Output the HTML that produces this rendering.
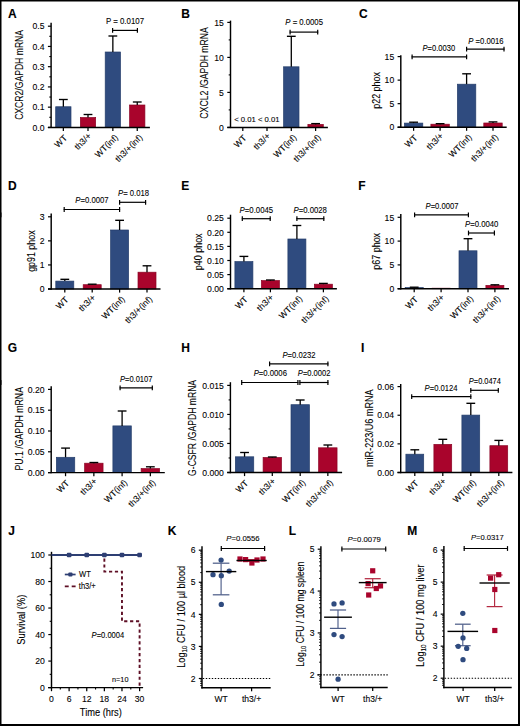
<!DOCTYPE html>
<html><head><meta charset="utf-8"><style>
html,body{margin:0;padding:0;background:#fff;}
body{width:520px;height:726px;overflow:hidden;}
svg{display:block;font-family:"Liberation Sans", sans-serif;}
text{stroke:#000;stroke-width:0.1px;}
</style></head><body>
<svg width="520" height="726" viewBox="0 0 520 726">
<rect x="0" y="0" width="520" height="726" fill="#fff"/>
<rect x="0" y="0" width="1.5" height="726" fill="#000"/>
<rect x="0" y="0" width="520" height="1.5" fill="#000"/>
<rect x="518" y="0" width="2" height="726" fill="#000"/>
<rect x="0" y="724" width="520" height="2" fill="#000"/>
<rect x="55.70" y="106.75" width="15.30" height="20.65" fill="#2f4b7f" stroke="#253e6b" stroke-width="0.7"/>
<line x1="63.35" y1="99.50" x2="63.35" y2="106.75" stroke="#000" stroke-width="1.3"/>
<line x1="58.95" y1="99.50" x2="67.75" y2="99.50" stroke="#000" stroke-width="1.35"/>
<rect x="80.35" y="117.50" width="15.30" height="9.90" fill="#a9042c" stroke="#8a0424" stroke-width="0.7"/>
<line x1="88.00" y1="114.50" x2="88.00" y2="117.50" stroke="#000" stroke-width="1.3"/>
<line x1="83.60" y1="114.50" x2="92.40" y2="114.50" stroke="#000" stroke-width="1.35"/>
<rect x="105.20" y="52.00" width="15.30" height="75.40" fill="#2f4b7f" stroke="#253e6b" stroke-width="0.7"/>
<line x1="112.85" y1="36.00" x2="112.85" y2="52.00" stroke="#000" stroke-width="1.3"/>
<line x1="108.45" y1="36.00" x2="117.25" y2="36.00" stroke="#000" stroke-width="1.35"/>
<rect x="129.60" y="105.00" width="15.30" height="22.40" fill="#a9042c" stroke="#8a0424" stroke-width="0.7"/>
<line x1="137.25" y1="102.00" x2="137.25" y2="105.00" stroke="#000" stroke-width="1.3"/>
<line x1="132.85" y1="102.00" x2="141.65" y2="102.00" stroke="#000" stroke-width="1.35"/>
<line x1="51.10" y1="22.80" x2="51.10" y2="128.12" stroke="#000" stroke-width="1.45"/>
<line x1="47.90" y1="127.40" x2="51.10" y2="127.40" stroke="#000" stroke-width="1.2"/>
<text x="0" y="0" font-size="9.2" transform="translate(44.50 130.60) scale(0.94 1)" text-anchor="end">0.0</text>
<line x1="47.90" y1="107.16" x2="51.10" y2="107.16" stroke="#000" stroke-width="1.2"/>
<text x="0" y="0" font-size="9.2" transform="translate(44.50 110.36) scale(0.94 1)" text-anchor="end">0.1</text>
<line x1="47.90" y1="86.92" x2="51.10" y2="86.92" stroke="#000" stroke-width="1.2"/>
<text x="0" y="0" font-size="9.2" transform="translate(44.50 90.12) scale(0.94 1)" text-anchor="end">0.2</text>
<line x1="47.90" y1="66.68" x2="51.10" y2="66.68" stroke="#000" stroke-width="1.2"/>
<text x="0" y="0" font-size="9.2" transform="translate(44.50 69.88) scale(0.94 1)" text-anchor="end">0.3</text>
<line x1="47.90" y1="46.44" x2="51.10" y2="46.44" stroke="#000" stroke-width="1.2"/>
<text x="0" y="0" font-size="9.2" transform="translate(44.50 49.64) scale(0.94 1)" text-anchor="end">0.4</text>
<line x1="47.90" y1="26.20" x2="51.10" y2="26.20" stroke="#000" stroke-width="1.2"/>
<text x="0" y="0" font-size="9.2" transform="translate(44.50 29.40) scale(0.94 1)" text-anchor="end">0.5</text>
<line x1="49.30" y1="117.28" x2="51.10" y2="117.28" stroke="#000" stroke-width="1.1"/>
<line x1="49.30" y1="97.04" x2="51.10" y2="97.04" stroke="#000" stroke-width="1.1"/>
<line x1="49.30" y1="76.80" x2="51.10" y2="76.80" stroke="#000" stroke-width="1.1"/>
<line x1="49.30" y1="56.56" x2="51.10" y2="56.56" stroke="#000" stroke-width="1.1"/>
<line x1="49.30" y1="36.32" x2="51.10" y2="36.32" stroke="#000" stroke-width="1.1"/>
<line x1="47.90" y1="127.40" x2="149.90" y2="127.40" stroke="#000" stroke-width="1.45"/>
<line x1="63.35" y1="127.40" x2="63.35" y2="131.00" stroke="#000" stroke-width="1.25"/>
<text x="67.65" y="138.60" font-size="8.7" text-anchor="end" transform="rotate(-45 67.65 138.60)">WT</text>
<line x1="88.00" y1="127.40" x2="88.00" y2="131.00" stroke="#000" stroke-width="1.25"/>
<text x="91.80" y="136.50" font-size="8.7" text-anchor="end" transform="rotate(-45 91.80 136.50)">th3/+</text>
<line x1="112.85" y1="127.40" x2="112.85" y2="131.00" stroke="#000" stroke-width="1.25"/>
<text x="118.65" y="138.00" font-size="8.7" text-anchor="end" transform="rotate(-45 118.65 138.00)">WT(inf)</text>
<line x1="137.25" y1="127.40" x2="137.25" y2="131.00" stroke="#000" stroke-width="1.25"/>
<text x="143.05" y="138.00" font-size="8.7" text-anchor="end" transform="rotate(-45 143.05 138.00)">th3/+(inf)</text>
<line x1="112.10" y1="30.40" x2="137.90" y2="30.40" stroke="#000" stroke-width="1.2"/>
<line x1="112.60" y1="28.00" x2="112.60" y2="32.80" stroke="#000" stroke-width="1.2"/>
<line x1="137.40" y1="28.00" x2="137.40" y2="32.80" stroke="#000" stroke-width="1.2"/>
<text x="125.00" y="23.75" font-size="8.9" text-anchor="middle" textLength="38.10" lengthAdjust="spacingAndGlyphs">P = 0.0107</text>
<text x="8.00" y="17.50" font-size="12" font-weight="bold">A</text>
<text x="23.40" y="74.90" font-size="10.4" text-anchor="middle" textLength="89.90" lengthAdjust="spacingAndGlyphs" transform="rotate(-90 23.40 74.90)">CXCR2/GAPDH mRNA</text>
<rect x="283.60" y="66.80" width="15.40" height="60.60" fill="#2f4b7f" stroke="#253e6b" stroke-width="0.7"/>
<line x1="291.30" y1="36.30" x2="291.30" y2="66.80" stroke="#000" stroke-width="1.3"/>
<line x1="286.90" y1="36.30" x2="295.70" y2="36.30" stroke="#000" stroke-width="1.35"/>
<rect x="307.90" y="124.40" width="15.40" height="3.00" fill="#a9042c" stroke="#8a0424" stroke-width="0.7"/>
<line x1="315.60" y1="123.60" x2="315.60" y2="124.40" stroke="#000" stroke-width="1.3"/>
<line x1="311.20" y1="123.60" x2="320.00" y2="123.60" stroke="#000" stroke-width="1.35"/>
<line x1="230.50" y1="20.60" x2="230.50" y2="128.12" stroke="#000" stroke-width="1.45"/>
<line x1="227.30" y1="127.40" x2="230.50" y2="127.40" stroke="#000" stroke-width="1.2"/>
<text x="0" y="0" font-size="9.2" transform="translate(223.90 130.60) scale(0.94 1)" text-anchor="end">0</text>
<line x1="227.30" y1="92.40" x2="230.50" y2="92.40" stroke="#000" stroke-width="1.2"/>
<text x="0" y="0" font-size="9.2" transform="translate(223.90 95.60) scale(0.94 1)" text-anchor="end">5</text>
<line x1="227.30" y1="57.40" x2="230.50" y2="57.40" stroke="#000" stroke-width="1.2"/>
<text x="0" y="0" font-size="9.2" transform="translate(223.90 60.60) scale(0.94 1)" text-anchor="end">10</text>
<line x1="227.30" y1="22.40" x2="230.50" y2="22.40" stroke="#000" stroke-width="1.2"/>
<text x="0" y="0" font-size="9.2" transform="translate(223.90 25.60) scale(0.94 1)" text-anchor="end">15</text>
<line x1="228.70" y1="109.90" x2="230.50" y2="109.90" stroke="#000" stroke-width="1.1"/>
<line x1="228.70" y1="74.90" x2="230.50" y2="74.90" stroke="#000" stroke-width="1.1"/>
<line x1="228.70" y1="39.90" x2="230.50" y2="39.90" stroke="#000" stroke-width="1.1"/>
<line x1="227.30" y1="127.40" x2="327.90" y2="127.40" stroke="#000" stroke-width="1.45"/>
<line x1="242.80" y1="127.40" x2="242.80" y2="131.00" stroke="#000" stroke-width="1.25"/>
<text x="247.10" y="138.60" font-size="8.7" text-anchor="end" transform="rotate(-45 247.10 138.60)">WT</text>
<line x1="267.00" y1="127.40" x2="267.00" y2="131.00" stroke="#000" stroke-width="1.25"/>
<text x="270.80" y="136.50" font-size="8.7" text-anchor="end" transform="rotate(-45 270.80 136.50)">th3/+</text>
<line x1="291.30" y1="127.40" x2="291.30" y2="131.00" stroke="#000" stroke-width="1.25"/>
<text x="297.10" y="138.00" font-size="8.7" text-anchor="end" transform="rotate(-45 297.10 138.00)">WT(inf)</text>
<line x1="315.60" y1="127.40" x2="315.60" y2="131.00" stroke="#000" stroke-width="1.25"/>
<text x="321.40" y="138.00" font-size="8.7" text-anchor="end" transform="rotate(-45 321.40 138.00)">th3/+(inf)</text>
<line x1="289.60" y1="32.10" x2="318.20" y2="32.10" stroke="#000" stroke-width="1.2"/>
<line x1="290.10" y1="29.70" x2="290.10" y2="34.50" stroke="#000" stroke-width="1.2"/>
<line x1="317.70" y1="29.70" x2="317.70" y2="34.50" stroke="#000" stroke-width="1.2"/>
<text x="304.15" y="25.45" font-size="8.9" text-anchor="middle" textLength="37.60" lengthAdjust="spacingAndGlyphs"><tspan font-style="italic">P</tspan> = 0.0005</text>
<text x="181.20" y="17.50" font-size="12" font-weight="bold">B</text>
<text x="208.00" y="72.90" font-size="10.4" text-anchor="middle" textLength="91.50" lengthAdjust="spacingAndGlyphs" transform="rotate(-90 208.00 72.90)">CXCL2 /GAPDH mRNA</text>
<rect x="404.40" y="123.10" width="18.40" height="4.10" fill="#2f4b7f" stroke="#253e6b" stroke-width="0.7"/>
<line x1="413.60" y1="122.20" x2="413.60" y2="123.10" stroke="#000" stroke-width="1.3"/>
<line x1="409.20" y1="122.20" x2="418.00" y2="122.20" stroke="#000" stroke-width="1.35"/>
<rect x="430.90" y="124.20" width="18.40" height="3.00" fill="#a9042c" stroke="#8a0424" stroke-width="0.7"/>
<line x1="440.10" y1="123.70" x2="440.10" y2="124.20" stroke="#000" stroke-width="1.3"/>
<line x1="435.70" y1="123.70" x2="444.50" y2="123.70" stroke="#000" stroke-width="1.35"/>
<rect x="457.40" y="84.20" width="18.40" height="43.00" fill="#2f4b7f" stroke="#253e6b" stroke-width="0.7"/>
<line x1="466.60" y1="73.80" x2="466.60" y2="84.20" stroke="#000" stroke-width="1.3"/>
<line x1="462.20" y1="73.80" x2="471.00" y2="73.80" stroke="#000" stroke-width="1.35"/>
<rect x="483.80" y="123.00" width="18.40" height="4.20" fill="#a9042c" stroke="#8a0424" stroke-width="0.7"/>
<line x1="493.00" y1="121.90" x2="493.00" y2="123.00" stroke="#000" stroke-width="1.3"/>
<line x1="488.60" y1="121.90" x2="497.40" y2="121.90" stroke="#000" stroke-width="1.35"/>
<line x1="400.80" y1="55.30" x2="400.80" y2="127.92" stroke="#000" stroke-width="1.45"/>
<line x1="397.60" y1="127.20" x2="400.80" y2="127.20" stroke="#000" stroke-width="1.2"/>
<text x="0" y="0" font-size="9.2" transform="translate(394.20 130.40) scale(0.94 1)" text-anchor="end">0</text>
<line x1="397.60" y1="103.67" x2="400.80" y2="103.67" stroke="#000" stroke-width="1.2"/>
<text x="0" y="0" font-size="9.2" transform="translate(394.20 106.87) scale(0.94 1)" text-anchor="end">5</text>
<line x1="397.60" y1="80.13" x2="400.80" y2="80.13" stroke="#000" stroke-width="1.2"/>
<text x="0" y="0" font-size="9.2" transform="translate(394.20 83.33) scale(0.94 1)" text-anchor="end">10</text>
<line x1="397.60" y1="56.59" x2="400.80" y2="56.59" stroke="#000" stroke-width="1.2"/>
<text x="0" y="0" font-size="9.2" transform="translate(394.20 59.80) scale(0.94 1)" text-anchor="end">15</text>
<line x1="397.60" y1="127.20" x2="506.70" y2="127.20" stroke="#000" stroke-width="1.45"/>
<line x1="413.60" y1="127.20" x2="413.60" y2="130.80" stroke="#000" stroke-width="1.25"/>
<text x="417.90" y="138.40" font-size="8.7" text-anchor="end" transform="rotate(-45 417.90 138.40)">WT</text>
<line x1="440.10" y1="127.20" x2="440.10" y2="130.80" stroke="#000" stroke-width="1.25"/>
<text x="443.90" y="136.30" font-size="8.7" text-anchor="end" transform="rotate(-45 443.90 136.30)">th3/+</text>
<line x1="466.60" y1="127.20" x2="466.60" y2="130.80" stroke="#000" stroke-width="1.25"/>
<text x="472.40" y="137.80" font-size="8.7" text-anchor="end" transform="rotate(-45 472.40 137.80)">WT(inf)</text>
<line x1="493.00" y1="127.20" x2="493.00" y2="130.80" stroke="#000" stroke-width="1.25"/>
<text x="498.80" y="137.80" font-size="8.7" text-anchor="end" transform="rotate(-45 498.80 137.80)">th3/+(inf)</text>
<line x1="411.60" y1="56.80" x2="467.10" y2="56.80" stroke="#000" stroke-width="1.2"/>
<line x1="412.10" y1="54.40" x2="412.10" y2="59.20" stroke="#000" stroke-width="1.2"/>
<line x1="466.60" y1="54.40" x2="466.60" y2="59.20" stroke="#000" stroke-width="1.2"/>
<text x="438.85" y="51.25" font-size="9.2" text-anchor="middle" textLength="32.60" lengthAdjust="spacingAndGlyphs"><tspan font-style="italic">P</tspan>=0.0030</text>
<line x1="466.10" y1="49.20" x2="504.50" y2="49.20" stroke="#000" stroke-width="1.2"/>
<line x1="466.60" y1="46.80" x2="466.60" y2="51.60" stroke="#000" stroke-width="1.2"/>
<line x1="504.00" y1="46.80" x2="504.00" y2="51.60" stroke="#000" stroke-width="1.2"/>
<text x="486.00" y="44.35" font-size="9.2" text-anchor="middle" textLength="35.30" lengthAdjust="spacingAndGlyphs"><tspan font-style="italic">P</tspan> =0.0016</text>
<text x="358.90" y="17.60" font-size="12" font-weight="bold">C</text>
<text x="379.90" y="90.40" font-size="10.0" text-anchor="middle" textLength="36.80" lengthAdjust="spacingAndGlyphs" transform="rotate(-90 379.90 90.40)">p22 phox</text>
<rect x="55.80" y="281.10" width="18.00" height="7.90" fill="#2f4b7f" stroke="#253e6b" stroke-width="0.7"/>
<line x1="64.80" y1="279.30" x2="64.80" y2="281.10" stroke="#000" stroke-width="1.3"/>
<line x1="60.40" y1="279.30" x2="69.20" y2="279.30" stroke="#000" stroke-width="1.35"/>
<rect x="83.20" y="284.70" width="18.00" height="4.30" fill="#a9042c" stroke="#8a0424" stroke-width="0.7"/>
<line x1="92.20" y1="284.20" x2="92.20" y2="284.70" stroke="#000" stroke-width="1.3"/>
<line x1="87.80" y1="284.20" x2="96.60" y2="284.20" stroke="#000" stroke-width="1.35"/>
<rect x="110.60" y="230.00" width="18.00" height="59.00" fill="#2f4b7f" stroke="#253e6b" stroke-width="0.7"/>
<line x1="119.60" y1="220.30" x2="119.60" y2="230.00" stroke="#000" stroke-width="1.3"/>
<line x1="115.20" y1="220.30" x2="124.00" y2="220.30" stroke="#000" stroke-width="1.35"/>
<rect x="138.00" y="272.20" width="18.00" height="16.80" fill="#a9042c" stroke="#8a0424" stroke-width="0.7"/>
<line x1="147.00" y1="265.80" x2="147.00" y2="272.20" stroke="#000" stroke-width="1.3"/>
<line x1="142.60" y1="265.80" x2="151.40" y2="265.80" stroke="#000" stroke-width="1.35"/>
<line x1="51.20" y1="213.60" x2="51.20" y2="289.73" stroke="#000" stroke-width="1.45"/>
<line x1="48.00" y1="289.00" x2="51.20" y2="289.00" stroke="#000" stroke-width="1.2"/>
<text x="0" y="0" font-size="9.2" transform="translate(44.60 292.20) scale(0.94 1)" text-anchor="end">0</text>
<line x1="48.00" y1="264.93" x2="51.20" y2="264.93" stroke="#000" stroke-width="1.2"/>
<text x="0" y="0" font-size="9.2" transform="translate(44.60 268.13) scale(0.94 1)" text-anchor="end">1</text>
<line x1="48.00" y1="240.86" x2="51.20" y2="240.86" stroke="#000" stroke-width="1.2"/>
<text x="0" y="0" font-size="9.2" transform="translate(44.60 244.06) scale(0.94 1)" text-anchor="end">2</text>
<line x1="48.00" y1="216.79" x2="51.20" y2="216.79" stroke="#000" stroke-width="1.2"/>
<text x="0" y="0" font-size="9.2" transform="translate(44.60 219.99) scale(0.94 1)" text-anchor="end">3</text>
<line x1="48.00" y1="289.00" x2="160.50" y2="289.00" stroke="#000" stroke-width="1.45"/>
<line x1="64.80" y1="289.00" x2="64.80" y2="292.60" stroke="#000" stroke-width="1.25"/>
<text x="69.10" y="300.20" font-size="8.7" text-anchor="end" transform="rotate(-45 69.10 300.20)">WT</text>
<line x1="92.20" y1="289.00" x2="92.20" y2="292.60" stroke="#000" stroke-width="1.25"/>
<text x="96.00" y="298.10" font-size="8.7" text-anchor="end" transform="rotate(-45 96.00 298.10)">th3/+</text>
<line x1="119.60" y1="289.00" x2="119.60" y2="292.60" stroke="#000" stroke-width="1.25"/>
<text x="125.40" y="299.60" font-size="8.7" text-anchor="end" transform="rotate(-45 125.40 299.60)">WT(inf)</text>
<line x1="147.00" y1="289.00" x2="147.00" y2="292.60" stroke="#000" stroke-width="1.25"/>
<text x="152.80" y="299.60" font-size="8.7" text-anchor="end" transform="rotate(-45 152.80 299.60)">th3/+(inf)</text>
<line x1="63.70" y1="209.50" x2="120.10" y2="209.50" stroke="#000" stroke-width="1.2"/>
<line x1="64.20" y1="207.10" x2="64.20" y2="211.90" stroke="#000" stroke-width="1.2"/>
<line x1="119.60" y1="207.10" x2="119.60" y2="211.90" stroke="#000" stroke-width="1.2"/>
<text x="92.00" y="203.35" font-size="9.2" text-anchor="middle" textLength="33.30" lengthAdjust="spacingAndGlyphs"><tspan font-style="italic">P</tspan>=0.0007</text>
<line x1="119.10" y1="202.30" x2="146.10" y2="202.30" stroke="#000" stroke-width="1.2"/>
<line x1="119.60" y1="199.90" x2="119.60" y2="204.70" stroke="#000" stroke-width="1.2"/>
<line x1="145.60" y1="199.90" x2="145.60" y2="204.70" stroke="#000" stroke-width="1.2"/>
<text x="133.55" y="196.25" font-size="9.2" text-anchor="middle" textLength="31.00" lengthAdjust="spacingAndGlyphs"><tspan font-style="italic">P</tspan>= 0.018</text>
<text x="7.90" y="189.50" font-size="12" font-weight="bold">D</text>
<text x="34.80" y="251.10" font-size="10.0" text-anchor="middle" textLength="41.40" lengthAdjust="spacingAndGlyphs" transform="rotate(-90 34.80 251.10)">gp91 phox</text>
<rect x="234.90" y="261.60" width="18.00" height="27.10" fill="#2f4b7f" stroke="#253e6b" stroke-width="0.7"/>
<line x1="243.90" y1="256.40" x2="243.90" y2="261.60" stroke="#000" stroke-width="1.3"/>
<line x1="239.50" y1="256.40" x2="248.30" y2="256.40" stroke="#000" stroke-width="1.35"/>
<rect x="261.40" y="280.60" width="18.00" height="8.10" fill="#a9042c" stroke="#8a0424" stroke-width="0.7"/>
<line x1="270.40" y1="280.00" x2="270.40" y2="280.60" stroke="#000" stroke-width="1.3"/>
<line x1="266.00" y1="280.00" x2="274.80" y2="280.00" stroke="#000" stroke-width="1.35"/>
<rect x="287.90" y="239.00" width="18.00" height="49.70" fill="#2f4b7f" stroke="#253e6b" stroke-width="0.7"/>
<line x1="296.90" y1="225.50" x2="296.90" y2="239.00" stroke="#000" stroke-width="1.3"/>
<line x1="292.50" y1="225.50" x2="301.30" y2="225.50" stroke="#000" stroke-width="1.35"/>
<rect x="314.40" y="284.20" width="18.00" height="4.50" fill="#a9042c" stroke="#8a0424" stroke-width="0.7"/>
<line x1="323.40" y1="283.40" x2="323.40" y2="284.20" stroke="#000" stroke-width="1.3"/>
<line x1="319.00" y1="283.40" x2="327.80" y2="283.40" stroke="#000" stroke-width="1.35"/>
<line x1="230.50" y1="214.70" x2="230.50" y2="289.43" stroke="#000" stroke-width="1.45"/>
<line x1="227.30" y1="288.70" x2="230.50" y2="288.70" stroke="#000" stroke-width="1.2"/>
<text x="0" y="0" font-size="9.2" transform="translate(223.90 291.90) scale(0.94 1)" text-anchor="end">0.00</text>
<line x1="227.30" y1="274.60" x2="230.50" y2="274.60" stroke="#000" stroke-width="1.2"/>
<text x="0" y="0" font-size="9.2" transform="translate(223.90 277.80) scale(0.94 1)" text-anchor="end">0.05</text>
<line x1="227.30" y1="260.50" x2="230.50" y2="260.50" stroke="#000" stroke-width="1.2"/>
<text x="0" y="0" font-size="9.2" transform="translate(223.90 263.70) scale(0.94 1)" text-anchor="end">0.10</text>
<line x1="227.30" y1="246.40" x2="230.50" y2="246.40" stroke="#000" stroke-width="1.2"/>
<text x="0" y="0" font-size="9.2" transform="translate(223.90 249.60) scale(0.94 1)" text-anchor="end">0.15</text>
<line x1="227.30" y1="232.30" x2="230.50" y2="232.30" stroke="#000" stroke-width="1.2"/>
<text x="0" y="0" font-size="9.2" transform="translate(223.90 235.50) scale(0.94 1)" text-anchor="end">0.20</text>
<line x1="227.30" y1="218.20" x2="230.50" y2="218.20" stroke="#000" stroke-width="1.2"/>
<text x="0" y="0" font-size="9.2" transform="translate(223.90 221.40) scale(0.94 1)" text-anchor="end">0.25</text>
<line x1="227.30" y1="288.70" x2="336.90" y2="288.70" stroke="#000" stroke-width="1.45"/>
<line x1="243.90" y1="288.70" x2="243.90" y2="292.30" stroke="#000" stroke-width="1.25"/>
<text x="248.20" y="299.90" font-size="8.7" text-anchor="end" transform="rotate(-45 248.20 299.90)">WT</text>
<line x1="270.40" y1="288.70" x2="270.40" y2="292.30" stroke="#000" stroke-width="1.25"/>
<text x="274.20" y="297.80" font-size="8.7" text-anchor="end" transform="rotate(-45 274.20 297.80)">th3/+</text>
<line x1="296.90" y1="288.70" x2="296.90" y2="292.30" stroke="#000" stroke-width="1.25"/>
<text x="302.70" y="299.30" font-size="8.7" text-anchor="end" transform="rotate(-45 302.70 299.30)">WT(inf)</text>
<line x1="323.40" y1="288.70" x2="323.40" y2="292.30" stroke="#000" stroke-width="1.25"/>
<text x="329.20" y="299.30" font-size="8.7" text-anchor="end" transform="rotate(-45 329.20 299.30)">th3/+(inf)</text>
<line x1="241.80" y1="218.70" x2="270.70" y2="218.70" stroke="#000" stroke-width="1.2"/>
<line x1="242.30" y1="216.30" x2="242.30" y2="221.10" stroke="#000" stroke-width="1.2"/>
<line x1="270.20" y1="216.30" x2="270.20" y2="221.10" stroke="#000" stroke-width="1.2"/>
<text x="256.35" y="213.15" font-size="9.2" text-anchor="middle" textLength="33.60" lengthAdjust="spacingAndGlyphs"><tspan font-style="italic">P</tspan>=0.0045</text>
<line x1="296.40" y1="218.70" x2="324.30" y2="218.70" stroke="#000" stroke-width="1.2"/>
<line x1="296.90" y1="216.30" x2="296.90" y2="221.10" stroke="#000" stroke-width="1.2"/>
<line x1="323.80" y1="216.30" x2="323.80" y2="221.10" stroke="#000" stroke-width="1.2"/>
<text x="310.20" y="213.15" font-size="9.2" text-anchor="middle" textLength="33.50" lengthAdjust="spacingAndGlyphs"><tspan font-style="italic">P</tspan>=0.0028</text>
<text x="181.20" y="189.50" font-size="12" font-weight="bold">E</text>
<text x="201.60" y="251.80" font-size="10.0" text-anchor="middle" textLength="36.80" lengthAdjust="spacingAndGlyphs" transform="rotate(-90 201.60 251.80)">p40 phox</text>
<rect x="405.20" y="287.60" width="18.00" height="1.10" fill="#2f4b7f" stroke="#253e6b" stroke-width="0.7"/>
<line x1="414.20" y1="287.20" x2="414.20" y2="287.60" stroke="#000" stroke-width="1.3"/>
<line x1="409.80" y1="287.20" x2="418.60" y2="287.20" stroke="#000" stroke-width="1.35"/>
<rect x="432.10" y="288.20" width="18.00" height="0.50" fill="#a9042c" stroke="#8a0424" stroke-width="0.7"/>
<rect x="459.00" y="250.80" width="18.00" height="37.90" fill="#2f4b7f" stroke="#253e6b" stroke-width="0.7"/>
<line x1="468.00" y1="238.70" x2="468.00" y2="250.80" stroke="#000" stroke-width="1.3"/>
<line x1="463.60" y1="238.70" x2="472.40" y2="238.70" stroke="#000" stroke-width="1.35"/>
<rect x="485.90" y="285.40" width="18.00" height="3.30" fill="#a9042c" stroke="#8a0424" stroke-width="0.7"/>
<line x1="494.90" y1="284.80" x2="494.90" y2="285.40" stroke="#000" stroke-width="1.3"/>
<line x1="490.50" y1="284.80" x2="499.30" y2="284.80" stroke="#000" stroke-width="1.35"/>
<line x1="400.80" y1="214.10" x2="400.80" y2="289.43" stroke="#000" stroke-width="1.45"/>
<line x1="397.60" y1="288.70" x2="400.80" y2="288.70" stroke="#000" stroke-width="1.2"/>
<text x="0" y="0" font-size="9.2" transform="translate(394.20 291.90) scale(0.94 1)" text-anchor="end">0</text>
<line x1="397.60" y1="264.90" x2="400.80" y2="264.90" stroke="#000" stroke-width="1.2"/>
<text x="0" y="0" font-size="9.2" transform="translate(394.20 268.10) scale(0.94 1)" text-anchor="end">5</text>
<line x1="397.60" y1="241.10" x2="400.80" y2="241.10" stroke="#000" stroke-width="1.2"/>
<text x="0" y="0" font-size="9.2" transform="translate(394.20 244.30) scale(0.94 1)" text-anchor="end">10</text>
<line x1="397.60" y1="217.30" x2="400.80" y2="217.30" stroke="#000" stroke-width="1.2"/>
<text x="0" y="0" font-size="9.2" transform="translate(394.20 220.50) scale(0.94 1)" text-anchor="end">15</text>
<line x1="397.60" y1="288.70" x2="509.00" y2="288.70" stroke="#000" stroke-width="1.45"/>
<line x1="414.20" y1="288.70" x2="414.20" y2="292.30" stroke="#000" stroke-width="1.25"/>
<text x="418.50" y="299.90" font-size="8.7" text-anchor="end" transform="rotate(-45 418.50 299.90)">WT</text>
<line x1="441.10" y1="288.70" x2="441.10" y2="292.30" stroke="#000" stroke-width="1.25"/>
<text x="444.90" y="297.80" font-size="8.7" text-anchor="end" transform="rotate(-45 444.90 297.80)">th3/+</text>
<line x1="468.00" y1="288.70" x2="468.00" y2="292.30" stroke="#000" stroke-width="1.25"/>
<text x="473.80" y="299.30" font-size="8.7" text-anchor="end" transform="rotate(-45 473.80 299.30)">WT(inf)</text>
<line x1="494.90" y1="288.70" x2="494.90" y2="292.30" stroke="#000" stroke-width="1.25"/>
<text x="500.70" y="299.30" font-size="8.7" text-anchor="end" transform="rotate(-45 500.70 299.30)">th3/+(inf)</text>
<line x1="414.10" y1="214.90" x2="468.90" y2="214.90" stroke="#000" stroke-width="1.2"/>
<line x1="414.60" y1="212.50" x2="414.60" y2="217.30" stroke="#000" stroke-width="1.2"/>
<line x1="468.40" y1="212.50" x2="468.40" y2="217.30" stroke="#000" stroke-width="1.2"/>
<line x1="-1.00" y1="212.50" x2="-1.00" y2="217.30" stroke="#000" stroke-width="0.9"/>
<line x1="1.00" y1="212.50" x2="1.00" y2="217.30" stroke="#000" stroke-width="0.9"/>
<text x="442.00" y="208.85" font-size="9.2" text-anchor="middle" textLength="32.90" lengthAdjust="spacingAndGlyphs"><tspan font-style="italic">P</tspan>=0.0007</text>
<line x1="468.00" y1="233.00" x2="494.90" y2="233.00" stroke="#000" stroke-width="1.2"/>
<line x1="468.50" y1="230.60" x2="468.50" y2="235.40" stroke="#000" stroke-width="1.2"/>
<line x1="494.40" y1="230.60" x2="494.40" y2="235.40" stroke="#000" stroke-width="1.2"/>
<text x="481.70" y="227.45" font-size="9.2" text-anchor="middle" textLength="33.50" lengthAdjust="spacingAndGlyphs"><tspan font-style="italic">P</tspan>=0.0040</text>
<text x="358.20" y="189.50" font-size="12" font-weight="bold">F</text>
<text x="379.70" y="251.30" font-size="10.0" text-anchor="middle" textLength="36.80" lengthAdjust="spacingAndGlyphs" transform="rotate(-90 379.70 251.30)">p67 phox</text>
<rect x="56.35" y="457.30" width="18.40" height="15.30" fill="#2f4b7f" stroke="#253e6b" stroke-width="0.7"/>
<line x1="65.55" y1="448.10" x2="65.55" y2="457.30" stroke="#000" stroke-width="1.3"/>
<line x1="61.15" y1="448.10" x2="69.95" y2="448.10" stroke="#000" stroke-width="1.35"/>
<rect x="84.65" y="463.20" width="18.40" height="9.40" fill="#a9042c" stroke="#8a0424" stroke-width="0.7"/>
<line x1="93.85" y1="462.50" x2="93.85" y2="463.20" stroke="#000" stroke-width="1.3"/>
<line x1="89.45" y1="462.50" x2="98.25" y2="462.50" stroke="#000" stroke-width="1.35"/>
<rect x="112.90" y="425.90" width="18.40" height="46.70" fill="#2f4b7f" stroke="#253e6b" stroke-width="0.7"/>
<line x1="122.10" y1="411.00" x2="122.10" y2="425.90" stroke="#000" stroke-width="1.3"/>
<line x1="117.70" y1="411.00" x2="126.50" y2="411.00" stroke="#000" stroke-width="1.35"/>
<rect x="141.15" y="468.60" width="18.40" height="4.00" fill="#a9042c" stroke="#8a0424" stroke-width="0.7"/>
<line x1="150.35" y1="466.80" x2="150.35" y2="468.60" stroke="#000" stroke-width="1.3"/>
<line x1="145.95" y1="466.80" x2="154.75" y2="466.80" stroke="#000" stroke-width="1.35"/>
<line x1="51.20" y1="386.30" x2="51.20" y2="473.33" stroke="#000" stroke-width="1.45"/>
<line x1="48.00" y1="472.60" x2="51.20" y2="472.60" stroke="#000" stroke-width="1.2"/>
<text x="0" y="0" font-size="9.2" transform="translate(44.60 475.80) scale(0.94 1)" text-anchor="end">0.00</text>
<line x1="48.00" y1="451.80" x2="51.20" y2="451.80" stroke="#000" stroke-width="1.2"/>
<text x="0" y="0" font-size="9.2" transform="translate(44.60 455.00) scale(0.94 1)" text-anchor="end">0.05</text>
<line x1="48.00" y1="431.00" x2="51.20" y2="431.00" stroke="#000" stroke-width="1.2"/>
<text x="0" y="0" font-size="9.2" transform="translate(44.60 434.20) scale(0.94 1)" text-anchor="end">0.10</text>
<line x1="48.00" y1="410.20" x2="51.20" y2="410.20" stroke="#000" stroke-width="1.2"/>
<text x="0" y="0" font-size="9.2" transform="translate(44.60 413.40) scale(0.94 1)" text-anchor="end">0.15</text>
<line x1="48.00" y1="389.40" x2="51.20" y2="389.40" stroke="#000" stroke-width="1.2"/>
<text x="0" y="0" font-size="9.2" transform="translate(44.60 392.60) scale(0.94 1)" text-anchor="end">0.20</text>
<line x1="48.00" y1="472.60" x2="164.80" y2="472.60" stroke="#000" stroke-width="1.45"/>
<line x1="65.55" y1="472.60" x2="65.55" y2="476.20" stroke="#000" stroke-width="1.25"/>
<text x="69.85" y="483.80" font-size="8.7" text-anchor="end" transform="rotate(-45 69.85 483.80)">WT</text>
<line x1="93.85" y1="472.60" x2="93.85" y2="476.20" stroke="#000" stroke-width="1.25"/>
<text x="97.65" y="481.70" font-size="8.7" text-anchor="end" transform="rotate(-45 97.65 481.70)">th3/+</text>
<line x1="122.10" y1="472.60" x2="122.10" y2="476.20" stroke="#000" stroke-width="1.25"/>
<text x="127.90" y="483.20" font-size="8.7" text-anchor="end" transform="rotate(-45 127.90 483.20)">WT(inf)</text>
<line x1="150.35" y1="472.60" x2="150.35" y2="476.20" stroke="#000" stroke-width="1.25"/>
<text x="156.15" y="483.20" font-size="8.7" text-anchor="end" transform="rotate(-45 156.15 483.20)">th3/+(inf)</text>
<line x1="119.60" y1="387.80" x2="152.80" y2="387.80" stroke="#000" stroke-width="1.2"/>
<line x1="120.10" y1="385.40" x2="120.10" y2="390.20" stroke="#000" stroke-width="1.2"/>
<line x1="152.30" y1="385.40" x2="152.30" y2="390.20" stroke="#000" stroke-width="1.2"/>
<text x="136.20" y="382.15" font-size="9.2" text-anchor="middle" textLength="32.50" lengthAdjust="spacingAndGlyphs"><tspan font-style="italic">P</tspan>=0.0107</text>
<text x="7.70" y="351.60" font-size="12" font-weight="bold">G</text>
<text x="22.80" y="428.80" font-size="10.4" text-anchor="middle" textLength="83.60" lengthAdjust="spacingAndGlyphs" transform="rotate(-90 22.80 428.80)">PU.1 /GAPDH mRNA</text>
<rect x="235.35" y="456.80" width="18.40" height="15.70" fill="#2f4b7f" stroke="#253e6b" stroke-width="0.7"/>
<line x1="244.55" y1="452.50" x2="244.55" y2="456.80" stroke="#000" stroke-width="1.3"/>
<line x1="240.15" y1="452.50" x2="248.95" y2="452.50" stroke="#000" stroke-width="1.35"/>
<rect x="263.10" y="457.50" width="18.40" height="15.00" fill="#a9042c" stroke="#8a0424" stroke-width="0.7"/>
<line x1="272.30" y1="457.00" x2="272.30" y2="457.50" stroke="#000" stroke-width="1.3"/>
<line x1="267.90" y1="457.00" x2="276.70" y2="457.00" stroke="#000" stroke-width="1.35"/>
<rect x="291.00" y="404.70" width="18.40" height="67.80" fill="#2f4b7f" stroke="#253e6b" stroke-width="0.7"/>
<line x1="300.20" y1="400.00" x2="300.20" y2="404.70" stroke="#000" stroke-width="1.3"/>
<line x1="295.80" y1="400.00" x2="304.60" y2="400.00" stroke="#000" stroke-width="1.35"/>
<rect x="318.65" y="447.80" width="18.40" height="24.70" fill="#a9042c" stroke="#8a0424" stroke-width="0.7"/>
<line x1="327.85" y1="445.00" x2="327.85" y2="447.80" stroke="#000" stroke-width="1.3"/>
<line x1="323.45" y1="445.00" x2="332.25" y2="445.00" stroke="#000" stroke-width="1.35"/>
<line x1="230.40" y1="382.20" x2="230.40" y2="473.23" stroke="#000" stroke-width="1.45"/>
<line x1="227.20" y1="472.50" x2="230.40" y2="472.50" stroke="#000" stroke-width="1.2"/>
<text x="0" y="0" font-size="9.2" transform="translate(223.80 475.70) scale(0.94 1)" text-anchor="end">0.000</text>
<line x1="227.20" y1="443.46" x2="230.40" y2="443.46" stroke="#000" stroke-width="1.2"/>
<text x="0" y="0" font-size="9.2" transform="translate(223.80 446.66) scale(0.94 1)" text-anchor="end">0.005</text>
<line x1="227.20" y1="414.43" x2="230.40" y2="414.43" stroke="#000" stroke-width="1.2"/>
<text x="0" y="0" font-size="9.2" transform="translate(223.80 417.63) scale(0.94 1)" text-anchor="end">0.010</text>
<line x1="227.20" y1="385.39" x2="230.40" y2="385.39" stroke="#000" stroke-width="1.2"/>
<text x="0" y="0" font-size="9.2" transform="translate(223.80 388.59) scale(0.94 1)" text-anchor="end">0.015</text>
<line x1="228.60" y1="457.98" x2="230.40" y2="457.98" stroke="#000" stroke-width="1.1"/>
<line x1="228.60" y1="428.95" x2="230.40" y2="428.95" stroke="#000" stroke-width="1.1"/>
<line x1="228.60" y1="399.91" x2="230.40" y2="399.91" stroke="#000" stroke-width="1.1"/>
<line x1="227.20" y1="472.50" x2="342.10" y2="472.50" stroke="#000" stroke-width="1.45"/>
<line x1="244.55" y1="472.50" x2="244.55" y2="476.10" stroke="#000" stroke-width="1.25"/>
<text x="248.85" y="483.70" font-size="8.7" text-anchor="end" transform="rotate(-45 248.85 483.70)">WT</text>
<line x1="272.30" y1="472.50" x2="272.30" y2="476.10" stroke="#000" stroke-width="1.25"/>
<text x="276.10" y="481.60" font-size="8.7" text-anchor="end" transform="rotate(-45 276.10 481.60)">th3/+</text>
<line x1="300.20" y1="472.50" x2="300.20" y2="476.10" stroke="#000" stroke-width="1.25"/>
<text x="306.00" y="483.10" font-size="8.7" text-anchor="end" transform="rotate(-45 306.00 483.10)">WT(inf)</text>
<line x1="327.85" y1="472.50" x2="327.85" y2="476.10" stroke="#000" stroke-width="1.25"/>
<text x="333.65" y="483.10" font-size="8.7" text-anchor="end" transform="rotate(-45 333.65 483.10)">th3/+(inf)</text>
<line x1="269.10" y1="363.80" x2="328.40" y2="363.80" stroke="#000" stroke-width="1.2"/>
<line x1="269.60" y1="361.40" x2="269.60" y2="366.20" stroke="#000" stroke-width="1.2"/>
<line x1="327.90" y1="361.40" x2="327.90" y2="366.20" stroke="#000" stroke-width="1.2"/>
<text x="298.95" y="357.75" font-size="9.2" text-anchor="middle" textLength="33.00" lengthAdjust="spacingAndGlyphs"><tspan font-style="italic">P</tspan>=0.0232</text>
<line x1="241.20" y1="382.50" x2="298.40" y2="382.50" stroke="#000" stroke-width="1.2"/>
<line x1="241.70" y1="380.10" x2="241.70" y2="384.90" stroke="#000" stroke-width="1.2"/>
<line x1="297.90" y1="380.10" x2="297.90" y2="384.90" stroke="#000" stroke-width="1.2"/>
<line x1="-1.00" y1="380.10" x2="-1.00" y2="384.90" stroke="#000" stroke-width="0.9"/>
<line x1="1.00" y1="380.10" x2="1.00" y2="384.90" stroke="#000" stroke-width="0.9"/>
<text x="270.30" y="376.35" font-size="8.76" text-anchor="middle" textLength="33.30" lengthAdjust="spacingAndGlyphs"><tspan font-style="italic">P</tspan>=0.0006</text>
<line x1="299.40" y1="382.50" x2="328.40" y2="382.50" stroke="#000" stroke-width="1.2"/>
<line x1="299.90" y1="380.10" x2="299.90" y2="384.90" stroke="#000" stroke-width="1.2"/>
<line x1="327.90" y1="380.10" x2="327.90" y2="384.90" stroke="#000" stroke-width="1.2"/>
<text x="314.15" y="376.35" font-size="8.76" text-anchor="middle" textLength="32.60" lengthAdjust="spacingAndGlyphs"><tspan font-style="italic">P</tspan>=0.0002</text>
<text x="181.20" y="351.60" font-size="12" font-weight="bold">H</text>
<text x="196.50" y="427.90" font-size="10.4" text-anchor="middle" textLength="96.00" lengthAdjust="spacingAndGlyphs" transform="rotate(-90 196.50 427.90)">G-CSFR /GAPDH mRNA</text>
<rect x="405.90" y="454.20" width="17.80" height="18.30" fill="#2f4b7f" stroke="#253e6b" stroke-width="0.7"/>
<line x1="414.80" y1="449.80" x2="414.80" y2="454.20" stroke="#000" stroke-width="1.3"/>
<line x1="410.40" y1="449.80" x2="419.20" y2="449.80" stroke="#000" stroke-width="1.35"/>
<rect x="433.90" y="444.40" width="17.80" height="28.10" fill="#a9042c" stroke="#8a0424" stroke-width="0.7"/>
<line x1="442.80" y1="439.30" x2="442.80" y2="444.40" stroke="#000" stroke-width="1.3"/>
<line x1="438.40" y1="439.30" x2="447.20" y2="439.30" stroke="#000" stroke-width="1.35"/>
<rect x="461.90" y="415.10" width="17.80" height="57.40" fill="#2f4b7f" stroke="#253e6b" stroke-width="0.7"/>
<line x1="470.80" y1="403.30" x2="470.80" y2="415.10" stroke="#000" stroke-width="1.3"/>
<line x1="466.40" y1="403.30" x2="475.20" y2="403.30" stroke="#000" stroke-width="1.35"/>
<rect x="489.90" y="445.70" width="17.80" height="26.80" fill="#a9042c" stroke="#8a0424" stroke-width="0.7"/>
<line x1="498.80" y1="440.40" x2="498.80" y2="445.70" stroke="#000" stroke-width="1.3"/>
<line x1="494.40" y1="440.40" x2="503.20" y2="440.40" stroke="#000" stroke-width="1.35"/>
<line x1="400.70" y1="384.00" x2="400.70" y2="473.23" stroke="#000" stroke-width="1.45"/>
<line x1="397.50" y1="472.50" x2="400.70" y2="472.50" stroke="#000" stroke-width="1.2"/>
<text x="0" y="0" font-size="9.2" transform="translate(394.10 475.70) scale(0.94 1)" text-anchor="end">0.00</text>
<line x1="397.50" y1="443.87" x2="400.70" y2="443.87" stroke="#000" stroke-width="1.2"/>
<text x="0" y="0" font-size="9.2" transform="translate(394.10 447.07) scale(0.94 1)" text-anchor="end">0.02</text>
<line x1="397.50" y1="415.23" x2="400.70" y2="415.23" stroke="#000" stroke-width="1.2"/>
<text x="0" y="0" font-size="9.2" transform="translate(394.10 418.43) scale(0.94 1)" text-anchor="end">0.04</text>
<line x1="397.50" y1="386.60" x2="400.70" y2="386.60" stroke="#000" stroke-width="1.2"/>
<text x="0" y="0" font-size="9.2" transform="translate(394.10 389.80) scale(0.94 1)" text-anchor="end">0.06</text>
<line x1="397.50" y1="472.50" x2="512.40" y2="472.50" stroke="#000" stroke-width="1.45"/>
<line x1="414.80" y1="472.50" x2="414.80" y2="476.10" stroke="#000" stroke-width="1.25"/>
<text x="419.10" y="483.70" font-size="8.7" text-anchor="end" transform="rotate(-45 419.10 483.70)">WT</text>
<line x1="442.80" y1="472.50" x2="442.80" y2="476.10" stroke="#000" stroke-width="1.25"/>
<text x="446.60" y="481.60" font-size="8.7" text-anchor="end" transform="rotate(-45 446.60 481.60)">th3/+</text>
<line x1="470.80" y1="472.50" x2="470.80" y2="476.10" stroke="#000" stroke-width="1.25"/>
<text x="476.60" y="483.10" font-size="8.7" text-anchor="end" transform="rotate(-45 476.60 483.10)">WT(inf)</text>
<line x1="498.80" y1="472.50" x2="498.80" y2="476.10" stroke="#000" stroke-width="1.25"/>
<text x="504.60" y="483.10" font-size="8.7" text-anchor="end" transform="rotate(-45 504.60 483.10)">th3/+(inf)</text>
<line x1="411.20" y1="396.60" x2="471.30" y2="396.60" stroke="#000" stroke-width="1.2"/>
<line x1="411.70" y1="394.20" x2="411.70" y2="399.00" stroke="#000" stroke-width="1.2"/>
<line x1="470.80" y1="394.20" x2="470.80" y2="399.00" stroke="#000" stroke-width="1.2"/>
<text x="441.05" y="390.85" font-size="9.2" text-anchor="middle" textLength="33.00" lengthAdjust="spacingAndGlyphs"><tspan font-style="italic">P</tspan>=0.0124</text>
<line x1="470.30" y1="390.30" x2="498.80" y2="390.30" stroke="#000" stroke-width="1.2"/>
<line x1="470.80" y1="387.90" x2="470.80" y2="392.70" stroke="#000" stroke-width="1.2"/>
<line x1="498.30" y1="387.90" x2="498.30" y2="392.70" stroke="#000" stroke-width="1.2"/>
<text x="484.85" y="383.55" font-size="8.76" text-anchor="middle" textLength="32.00" lengthAdjust="spacingAndGlyphs"><tspan font-style="italic">P</tspan>=0.0474</text>
<text x="361.00" y="351.60" font-size="12" font-weight="bold">I</text>
<text x="373.40" y="428.20" font-size="10.4" text-anchor="middle" textLength="77.50" lengthAdjust="spacingAndGlyphs" transform="rotate(-90 373.40 428.20)">miR-223/U6 mRNA</text>
<text x="234.20" y="121.60" font-size="7.9" textLength="45.40" lengthAdjust="spacingAndGlyphs">&lt; 0.01 &lt; 0.01</text>
<line x1="51.50" y1="551.80" x2="51.50" y2="688.33" stroke="#000" stroke-width="1.45"/>
<line x1="48.30" y1="687.60" x2="51.50" y2="687.60" stroke="#000" stroke-width="1.2"/>
<text x="0" y="0" font-size="9.2" transform="translate(44.90 690.80) scale(0.94 1)" text-anchor="end">0</text>
<line x1="48.30" y1="661.08" x2="51.50" y2="661.08" stroke="#000" stroke-width="1.2"/>
<text x="0" y="0" font-size="9.2" transform="translate(44.90 664.28) scale(0.94 1)" text-anchor="end">20</text>
<line x1="48.30" y1="634.56" x2="51.50" y2="634.56" stroke="#000" stroke-width="1.2"/>
<text x="0" y="0" font-size="9.2" transform="translate(44.90 637.76) scale(0.94 1)" text-anchor="end">40</text>
<line x1="48.30" y1="608.04" x2="51.50" y2="608.04" stroke="#000" stroke-width="1.2"/>
<text x="0" y="0" font-size="9.2" transform="translate(44.90 611.24) scale(0.94 1)" text-anchor="end">60</text>
<line x1="48.30" y1="581.52" x2="51.50" y2="581.52" stroke="#000" stroke-width="1.2"/>
<text x="0" y="0" font-size="9.2" transform="translate(44.90 584.72) scale(0.94 1)" text-anchor="end">80</text>
<line x1="48.30" y1="555.00" x2="51.50" y2="555.00" stroke="#000" stroke-width="1.2"/>
<text x="0" y="0" font-size="9.2" transform="translate(44.90 558.20) scale(0.94 1)" text-anchor="end">100</text>
<line x1="49.70" y1="674.34" x2="51.50" y2="674.34" stroke="#000" stroke-width="1.1"/>
<line x1="49.70" y1="647.82" x2="51.50" y2="647.82" stroke="#000" stroke-width="1.1"/>
<line x1="49.70" y1="621.30" x2="51.50" y2="621.30" stroke="#000" stroke-width="1.1"/>
<line x1="49.70" y1="594.78" x2="51.50" y2="594.78" stroke="#000" stroke-width="1.1"/>
<line x1="49.70" y1="568.26" x2="51.50" y2="568.26" stroke="#000" stroke-width="1.1"/>
<line x1="48.10" y1="687.60" x2="143.10" y2="687.60" stroke="#000" stroke-width="1.45"/>
<line x1="51.50" y1="687.60" x2="51.50" y2="691.20" stroke="#000" stroke-width="1.25"/>
<text x="0" y="0" font-size="9.2" transform="translate(51.50 702.00) scale(0.94 1)" text-anchor="middle">0</text>
<line x1="69.12" y1="687.60" x2="69.12" y2="691.20" stroke="#000" stroke-width="1.25"/>
<text x="0" y="0" font-size="9.2" transform="translate(69.12 702.00) scale(0.94 1)" text-anchor="middle">6</text>
<line x1="86.74" y1="687.60" x2="86.74" y2="691.20" stroke="#000" stroke-width="1.25"/>
<text x="0" y="0" font-size="9.2" transform="translate(86.74 702.00) scale(0.94 1)" text-anchor="middle">12</text>
<line x1="104.36" y1="687.60" x2="104.36" y2="691.20" stroke="#000" stroke-width="1.25"/>
<text x="0" y="0" font-size="9.2" transform="translate(104.36 702.00) scale(0.94 1)" text-anchor="middle">18</text>
<line x1="121.98" y1="687.60" x2="121.98" y2="691.20" stroke="#000" stroke-width="1.25"/>
<text x="0" y="0" font-size="9.2" transform="translate(121.98 702.00) scale(0.94 1)" text-anchor="middle">24</text>
<line x1="139.60" y1="687.60" x2="139.60" y2="691.20" stroke="#000" stroke-width="1.25"/>
<text x="0" y="0" font-size="9.2" transform="translate(139.60 702.00) scale(0.94 1)" text-anchor="middle">30</text>
<line x1="60.31" y1="687.60" x2="60.31" y2="689.40" stroke="#000" stroke-width="1.1"/>
<line x1="77.93" y1="687.60" x2="77.93" y2="689.40" stroke="#000" stroke-width="1.1"/>
<line x1="95.55" y1="687.60" x2="95.55" y2="689.40" stroke="#000" stroke-width="1.1"/>
<line x1="113.17" y1="687.60" x2="113.17" y2="689.40" stroke="#000" stroke-width="1.1"/>
<line x1="130.79" y1="687.60" x2="130.79" y2="689.40" stroke="#000" stroke-width="1.1"/>
<text x="100.80" y="716.20" font-size="10.4" text-anchor="middle" textLength="42.00" lengthAdjust="spacingAndGlyphs">Time (hrs)</text>
<text x="25.00" y="619.70" font-size="10.2" text-anchor="middle" textLength="50.00" lengthAdjust="spacingAndGlyphs" transform="rotate(-90 25.00 619.70)">Survival (%)</text>
<text x="8.20" y="535.00" font-size="12" font-weight="bold">J</text>
<path d="M104.36,558.50 V571.58 H121.98 V621.30 H139.60 V687.10" fill="none" stroke="#5e0f25" stroke-width="1.9" stroke-dasharray="3.2,2.7"/>
<line x1="51.50" y1="555.00" x2="141.90" y2="555.00" stroke="#2e3f73" stroke-width="1.9"/>
<rect x="66.82" y="552.70" width="4.6" height="4.6" rx="1" fill="#2e3f73"/>
<rect x="84.44" y="552.70" width="4.6" height="4.6" rx="1" fill="#2e3f73"/>
<rect x="102.06" y="552.70" width="4.6" height="4.6" rx="1" fill="#2e3f73"/>
<rect x="119.68" y="552.70" width="4.6" height="4.6" rx="1" fill="#2e3f73"/>
<rect x="137.30" y="552.70" width="4.6" height="4.6" rx="1" fill="#2e3f73"/>
<line x1="64.80" y1="574.50" x2="75.60" y2="574.50" stroke="#2e3f73" stroke-width="1.7"/>
<rect x="68.3" y="572.4" width="4.2" height="4.2" rx="1" fill="#2e3f73"/>
<text x="79.00" y="576.80" font-size="8.4" textLength="11.80" lengthAdjust="spacingAndGlyphs">WT</text>
<line x1="64.8" y1="586.3" x2="75.6" y2="586.3" stroke="#5e0f25" stroke-width="1.8" stroke-dasharray="3.9,3"/>
<text x="78.80" y="588.80" font-size="8.4" textLength="16.90" lengthAdjust="spacingAndGlyphs">th3/+</text>
<text x="107.92" y="637.95" font-size="8.9" text-anchor="middle" textLength="32.65" lengthAdjust="spacingAndGlyphs"><tspan font-style="italic">P</tspan>=0.0004</text>
<text x="120.25" y="682.35" font-size="7.2" text-anchor="middle" textLength="16.40" lengthAdjust="spacingAndGlyphs">n=10</text>
<line x1="202.00" y1="546.30" x2="202.00" y2="688.43" stroke="#000" stroke-width="1.45"/>
<line x1="198.80" y1="678.50" x2="202.00" y2="678.50" stroke="#000" stroke-width="1.2"/>
<text x="0" y="0" font-size="9.2" transform="translate(195.60 681.70) scale(0.94 1)" text-anchor="end">2</text>
<line x1="198.80" y1="646.42" x2="202.00" y2="646.42" stroke="#000" stroke-width="1.2"/>
<text x="0" y="0" font-size="9.2" transform="translate(195.60 649.62) scale(0.94 1)" text-anchor="end">3</text>
<line x1="198.80" y1="614.34" x2="202.00" y2="614.34" stroke="#000" stroke-width="1.2"/>
<text x="0" y="0" font-size="9.2" transform="translate(195.60 617.54) scale(0.94 1)" text-anchor="end">4</text>
<line x1="198.80" y1="582.26" x2="202.00" y2="582.26" stroke="#000" stroke-width="1.2"/>
<text x="0" y="0" font-size="9.2" transform="translate(195.60 585.46) scale(0.94 1)" text-anchor="end">5</text>
<line x1="198.80" y1="550.18" x2="202.00" y2="550.18" stroke="#000" stroke-width="1.2"/>
<text x="0" y="0" font-size="9.2" transform="translate(195.60 553.38) scale(0.94 1)" text-anchor="end">6</text>
<line x1="200.20" y1="685.62" x2="202.00" y2="685.62" stroke="#000" stroke-width="0.9"/>
<line x1="200.20" y1="683.47" x2="202.00" y2="683.47" stroke="#000" stroke-width="0.9"/>
<line x1="200.20" y1="681.61" x2="202.00" y2="681.61" stroke="#000" stroke-width="0.9"/>
<line x1="200.20" y1="679.97" x2="202.00" y2="679.97" stroke="#000" stroke-width="0.9"/>
<line x1="200.20" y1="668.84" x2="202.00" y2="668.84" stroke="#000" stroke-width="0.9"/>
<line x1="200.20" y1="663.19" x2="202.00" y2="663.19" stroke="#000" stroke-width="0.9"/>
<line x1="200.20" y1="659.19" x2="202.00" y2="659.19" stroke="#000" stroke-width="0.9"/>
<line x1="200.20" y1="656.08" x2="202.00" y2="656.08" stroke="#000" stroke-width="0.9"/>
<line x1="200.20" y1="653.54" x2="202.00" y2="653.54" stroke="#000" stroke-width="0.9"/>
<line x1="200.20" y1="651.39" x2="202.00" y2="651.39" stroke="#000" stroke-width="0.9"/>
<line x1="200.20" y1="649.53" x2="202.00" y2="649.53" stroke="#000" stroke-width="0.9"/>
<line x1="200.20" y1="647.89" x2="202.00" y2="647.89" stroke="#000" stroke-width="0.9"/>
<line x1="200.20" y1="636.76" x2="202.00" y2="636.76" stroke="#000" stroke-width="0.9"/>
<line x1="200.20" y1="631.11" x2="202.00" y2="631.11" stroke="#000" stroke-width="0.9"/>
<line x1="200.20" y1="627.11" x2="202.00" y2="627.11" stroke="#000" stroke-width="0.9"/>
<line x1="200.20" y1="624.00" x2="202.00" y2="624.00" stroke="#000" stroke-width="0.9"/>
<line x1="200.20" y1="621.46" x2="202.00" y2="621.46" stroke="#000" stroke-width="0.9"/>
<line x1="200.20" y1="619.31" x2="202.00" y2="619.31" stroke="#000" stroke-width="0.9"/>
<line x1="200.20" y1="617.45" x2="202.00" y2="617.45" stroke="#000" stroke-width="0.9"/>
<line x1="200.20" y1="615.81" x2="202.00" y2="615.81" stroke="#000" stroke-width="0.9"/>
<line x1="200.20" y1="604.68" x2="202.00" y2="604.68" stroke="#000" stroke-width="0.9"/>
<line x1="200.20" y1="599.03" x2="202.00" y2="599.03" stroke="#000" stroke-width="0.9"/>
<line x1="200.20" y1="595.03" x2="202.00" y2="595.03" stroke="#000" stroke-width="0.9"/>
<line x1="200.20" y1="591.92" x2="202.00" y2="591.92" stroke="#000" stroke-width="0.9"/>
<line x1="200.20" y1="589.38" x2="202.00" y2="589.38" stroke="#000" stroke-width="0.9"/>
<line x1="200.20" y1="587.23" x2="202.00" y2="587.23" stroke="#000" stroke-width="0.9"/>
<line x1="200.20" y1="585.37" x2="202.00" y2="585.37" stroke="#000" stroke-width="0.9"/>
<line x1="200.20" y1="583.73" x2="202.00" y2="583.73" stroke="#000" stroke-width="0.9"/>
<line x1="200.20" y1="572.60" x2="202.00" y2="572.60" stroke="#000" stroke-width="0.9"/>
<line x1="200.20" y1="566.95" x2="202.00" y2="566.95" stroke="#000" stroke-width="0.9"/>
<line x1="200.20" y1="562.95" x2="202.00" y2="562.95" stroke="#000" stroke-width="0.9"/>
<line x1="200.20" y1="559.84" x2="202.00" y2="559.84" stroke="#000" stroke-width="0.9"/>
<line x1="200.20" y1="557.30" x2="202.00" y2="557.30" stroke="#000" stroke-width="0.9"/>
<line x1="200.20" y1="555.15" x2="202.00" y2="555.15" stroke="#000" stroke-width="0.9"/>
<line x1="200.20" y1="553.29" x2="202.00" y2="553.29" stroke="#000" stroke-width="0.9"/>
<line x1="200.20" y1="551.65" x2="202.00" y2="551.65" stroke="#000" stroke-width="0.9"/>
<line x1="201.28" y1="687.70" x2="270.70" y2="687.70" stroke="#000" stroke-width="1.45"/>
<line x1="202.80" y1="678.50" x2="270.70" y2="678.50" stroke="#000" stroke-width="1.15" stroke-dasharray="1.4,1.6"/>
<line x1="221.10" y1="687.70" x2="221.10" y2="691.30" stroke="#000" stroke-width="1.25"/>
<text x="0" y="0" font-size="8.8" transform="translate(221.10 702.00) scale(0.97 1)" text-anchor="middle">WT</text>
<line x1="251.60" y1="687.70" x2="251.60" y2="691.30" stroke="#000" stroke-width="1.25"/>
<text x="0" y="0" font-size="8.8" transform="translate(251.60 702.00) scale(0.97 1)" text-anchor="middle">th3/+</text>
<line x1="221.10" y1="563.20" x2="221.10" y2="594.80" stroke="#4f5f8a" stroke-width="1.15"/>
<line x1="212.80" y1="563.20" x2="229.40" y2="563.20" stroke="#4f5f8a" stroke-width="1.25"/>
<line x1="212.80" y1="594.80" x2="229.40" y2="594.80" stroke="#4f5f8a" stroke-width="1.25"/>
<line x1="251.60" y1="559.60" x2="251.60" y2="561.40" stroke="#b32840" stroke-width="1.15"/>
<line x1="246.60" y1="559.60" x2="256.60" y2="559.60" stroke="#b32840" stroke-width="1.25"/>
<line x1="246.60" y1="561.40" x2="256.60" y2="561.40" stroke="#b32840" stroke-width="1.25"/>
<circle cx="221.10" cy="560.10" r="2.65" fill="#2f4b7f"/>
<circle cx="213.00" cy="574.70" r="2.65" fill="#2f4b7f"/>
<circle cx="221.30" cy="575.70" r="2.65" fill="#2f4b7f"/>
<circle cx="229.20" cy="571.10" r="2.65" fill="#2f4b7f"/>
<circle cx="221.30" cy="604.40" r="2.65" fill="#2f4b7f"/>
<rect x="237.40" y="556.40" width="5.20" height="5.20" fill="#a9042c"/>
<rect x="243.00" y="557.00" width="5.20" height="5.20" fill="#a9042c"/>
<rect x="249.30" y="560.40" width="5.20" height="5.20" fill="#a9042c"/>
<rect x="254.40" y="557.40" width="5.20" height="5.20" fill="#a9042c"/>
<rect x="260.40" y="556.40" width="5.20" height="5.20" fill="#a9042c"/>
<line x1="205.90" y1="571.60" x2="236.30" y2="571.60" stroke="#000" stroke-width="1.4"/>
<line x1="236.45" y1="560.50" x2="266.75" y2="560.50" stroke="#000" stroke-width="1.4"/>
<line x1="220.80" y1="548.50" x2="265.10" y2="548.50" stroke="#000" stroke-width="1.2"/>
<line x1="221.30" y1="546.10" x2="221.30" y2="550.90" stroke="#000" stroke-width="1.2"/>
<line x1="264.60" y1="546.10" x2="264.60" y2="550.90" stroke="#000" stroke-width="1.2"/>
<text x="243.00" y="541.15" font-size="8.05" text-anchor="middle" textLength="33.30" lengthAdjust="spacingAndGlyphs"><tspan font-style="italic">P</tspan>=0.0556</text>
<text x="167.70" y="535.20" font-size="12" font-weight="bold">K</text>
<text x="185.10" y="616.80" font-size="10.2" text-anchor="middle" transform="rotate(-90 185.10 616.80)" textLength="102.00" lengthAdjust="spacingAndGlyphs">Log<tspan font-size="6.8" dy="2">10</tspan><tspan dy="-2"> CFU / 100 µl blood</tspan></text>
<line x1="320.90" y1="546.30" x2="320.90" y2="688.23" stroke="#000" stroke-width="1.45"/>
<line x1="317.70" y1="674.80" x2="320.90" y2="674.80" stroke="#000" stroke-width="1.2"/>
<text x="0" y="0" font-size="9.2" transform="translate(314.50 678.00) scale(0.94 1)" text-anchor="end">2</text>
<line x1="317.70" y1="632.93" x2="320.90" y2="632.93" stroke="#000" stroke-width="1.2"/>
<text x="0" y="0" font-size="9.2" transform="translate(314.50 636.13) scale(0.94 1)" text-anchor="end">3</text>
<line x1="317.70" y1="591.06" x2="320.90" y2="591.06" stroke="#000" stroke-width="1.2"/>
<text x="0" y="0" font-size="9.2" transform="translate(314.50 594.26) scale(0.94 1)" text-anchor="end">4</text>
<line x1="317.70" y1="549.19" x2="320.90" y2="549.19" stroke="#000" stroke-width="1.2"/>
<text x="0" y="0" font-size="9.2" transform="translate(314.50 552.39) scale(0.94 1)" text-anchor="end">5</text>
<line x1="319.10" y1="684.09" x2="320.90" y2="684.09" stroke="#000" stroke-width="0.9"/>
<line x1="319.10" y1="681.29" x2="320.90" y2="681.29" stroke="#000" stroke-width="0.9"/>
<line x1="319.10" y1="678.86" x2="320.90" y2="678.86" stroke="#000" stroke-width="0.9"/>
<line x1="319.10" y1="676.72" x2="320.90" y2="676.72" stroke="#000" stroke-width="0.9"/>
<line x1="319.10" y1="662.20" x2="320.90" y2="662.20" stroke="#000" stroke-width="0.9"/>
<line x1="319.10" y1="654.82" x2="320.90" y2="654.82" stroke="#000" stroke-width="0.9"/>
<line x1="319.10" y1="649.59" x2="320.90" y2="649.59" stroke="#000" stroke-width="0.9"/>
<line x1="319.10" y1="645.53" x2="320.90" y2="645.53" stroke="#000" stroke-width="0.9"/>
<line x1="319.10" y1="642.22" x2="320.90" y2="642.22" stroke="#000" stroke-width="0.9"/>
<line x1="319.10" y1="639.42" x2="320.90" y2="639.42" stroke="#000" stroke-width="0.9"/>
<line x1="319.10" y1="636.99" x2="320.90" y2="636.99" stroke="#000" stroke-width="0.9"/>
<line x1="319.10" y1="634.85" x2="320.90" y2="634.85" stroke="#000" stroke-width="0.9"/>
<line x1="319.10" y1="620.33" x2="320.90" y2="620.33" stroke="#000" stroke-width="0.9"/>
<line x1="319.10" y1="612.95" x2="320.90" y2="612.95" stroke="#000" stroke-width="0.9"/>
<line x1="319.10" y1="607.72" x2="320.90" y2="607.72" stroke="#000" stroke-width="0.9"/>
<line x1="319.10" y1="603.66" x2="320.90" y2="603.66" stroke="#000" stroke-width="0.9"/>
<line x1="319.10" y1="600.35" x2="320.90" y2="600.35" stroke="#000" stroke-width="0.9"/>
<line x1="319.10" y1="597.55" x2="320.90" y2="597.55" stroke="#000" stroke-width="0.9"/>
<line x1="319.10" y1="595.12" x2="320.90" y2="595.12" stroke="#000" stroke-width="0.9"/>
<line x1="319.10" y1="592.98" x2="320.90" y2="592.98" stroke="#000" stroke-width="0.9"/>
<line x1="319.10" y1="578.46" x2="320.90" y2="578.46" stroke="#000" stroke-width="0.9"/>
<line x1="319.10" y1="571.08" x2="320.90" y2="571.08" stroke="#000" stroke-width="0.9"/>
<line x1="319.10" y1="565.85" x2="320.90" y2="565.85" stroke="#000" stroke-width="0.9"/>
<line x1="319.10" y1="561.79" x2="320.90" y2="561.79" stroke="#000" stroke-width="0.9"/>
<line x1="319.10" y1="558.48" x2="320.90" y2="558.48" stroke="#000" stroke-width="0.9"/>
<line x1="319.10" y1="555.68" x2="320.90" y2="555.68" stroke="#000" stroke-width="0.9"/>
<line x1="319.10" y1="553.25" x2="320.90" y2="553.25" stroke="#000" stroke-width="0.9"/>
<line x1="319.10" y1="551.11" x2="320.90" y2="551.11" stroke="#000" stroke-width="0.9"/>
<line x1="320.17" y1="687.50" x2="387.70" y2="687.50" stroke="#000" stroke-width="1.45"/>
<line x1="317.40" y1="674.80" x2="387.70" y2="674.80" stroke="#000" stroke-width="1.15" stroke-dasharray="1.4,1.6"/>
<line x1="338.10" y1="687.50" x2="338.10" y2="691.10" stroke="#000" stroke-width="1.25"/>
<text x="0" y="0" font-size="8.8" transform="translate(338.10 701.80) scale(0.97 1)" text-anchor="middle">WT</text>
<line x1="372.70" y1="687.50" x2="372.70" y2="691.10" stroke="#000" stroke-width="1.25"/>
<text x="0" y="0" font-size="8.8" transform="translate(372.70 701.80) scale(0.97 1)" text-anchor="middle">th3/+</text>
<line x1="338.00" y1="610.00" x2="338.00" y2="628.40" stroke="#4f5f8a" stroke-width="1.15"/>
<line x1="329.90" y1="610.00" x2="346.10" y2="610.00" stroke="#4f5f8a" stroke-width="1.25"/>
<line x1="329.90" y1="628.40" x2="346.10" y2="628.40" stroke="#4f5f8a" stroke-width="1.25"/>
<line x1="372.70" y1="578.70" x2="372.70" y2="587.70" stroke="#b32840" stroke-width="1.15"/>
<line x1="364.70" y1="578.70" x2="380.70" y2="578.70" stroke="#b32840" stroke-width="1.25"/>
<line x1="364.70" y1="587.70" x2="380.70" y2="587.70" stroke="#b32840" stroke-width="1.25"/>
<circle cx="334.00" cy="603.90" r="2.65" fill="#2f4b7f"/>
<circle cx="342.10" cy="602.90" r="2.65" fill="#2f4b7f"/>
<circle cx="334.00" cy="634.60" r="2.65" fill="#2f4b7f"/>
<circle cx="342.10" cy="636.60" r="2.65" fill="#2f4b7f"/>
<circle cx="338.10" cy="679.20" r="2.65" fill="#2f4b7f"/>
<rect x="370.10" y="568.20" width="5.20" height="5.20" fill="#a9042c"/>
<rect x="365.50" y="581.00" width="5.20" height="5.20" fill="#a9042c"/>
<rect x="373.70" y="585.90" width="5.20" height="5.20" fill="#a9042c"/>
<rect x="377.90" y="583.30" width="5.20" height="5.20" fill="#a9042c"/>
<rect x="366.10" y="592.40" width="5.20" height="5.20" fill="#a9042c"/>
<line x1="324.10" y1="617.20" x2="351.90" y2="617.20" stroke="#000" stroke-width="1.4"/>
<line x1="358.80" y1="582.60" x2="386.60" y2="582.60" stroke="#000" stroke-width="1.4"/>
<line x1="341.40" y1="549.00" x2="386.20" y2="549.00" stroke="#000" stroke-width="1.2"/>
<line x1="341.90" y1="546.60" x2="341.90" y2="551.40" stroke="#000" stroke-width="1.2"/>
<line x1="385.70" y1="546.60" x2="385.70" y2="551.40" stroke="#000" stroke-width="1.2"/>
<text x="364.10" y="541.75" font-size="8.05" text-anchor="middle" textLength="33.30" lengthAdjust="spacingAndGlyphs"><tspan font-style="italic">P</tspan>=0.0079</text>
<text x="288.80" y="534.80" font-size="12" font-weight="bold">L</text>
<text x="304.50" y="614.20" font-size="10.0" text-anchor="middle" transform="rotate(-90 304.50 614.20)" textLength="105.00" lengthAdjust="spacingAndGlyphs">Log<tspan font-size="6.8" dy="2">10</tspan><tspan dy="-2"> CFU / 100 mg spleen</tspan></text>
<line x1="443.90" y1="546.10" x2="443.90" y2="688.23" stroke="#000" stroke-width="1.45"/>
<line x1="440.70" y1="678.20" x2="443.90" y2="678.20" stroke="#000" stroke-width="1.2"/>
<text x="0" y="0" font-size="9.2" transform="translate(437.50 681.40) scale(0.94 1)" text-anchor="end">2</text>
<line x1="440.70" y1="646.17" x2="443.90" y2="646.17" stroke="#000" stroke-width="1.2"/>
<text x="0" y="0" font-size="9.2" transform="translate(437.50 649.37) scale(0.94 1)" text-anchor="end">3</text>
<line x1="440.70" y1="614.14" x2="443.90" y2="614.14" stroke="#000" stroke-width="1.2"/>
<text x="0" y="0" font-size="9.2" transform="translate(437.50 617.34) scale(0.94 1)" text-anchor="end">4</text>
<line x1="440.70" y1="582.11" x2="443.90" y2="582.11" stroke="#000" stroke-width="1.2"/>
<text x="0" y="0" font-size="9.2" transform="translate(437.50 585.31) scale(0.94 1)" text-anchor="end">5</text>
<line x1="440.70" y1="550.08" x2="443.90" y2="550.08" stroke="#000" stroke-width="1.2"/>
<text x="0" y="0" font-size="9.2" transform="translate(437.50 553.28) scale(0.94 1)" text-anchor="end">6</text>
<line x1="442.10" y1="685.31" x2="443.90" y2="685.31" stroke="#000" stroke-width="0.9"/>
<line x1="442.10" y1="683.16" x2="443.90" y2="683.16" stroke="#000" stroke-width="0.9"/>
<line x1="442.10" y1="681.30" x2="443.90" y2="681.30" stroke="#000" stroke-width="0.9"/>
<line x1="442.10" y1="679.67" x2="443.90" y2="679.67" stroke="#000" stroke-width="0.9"/>
<line x1="442.10" y1="668.56" x2="443.90" y2="668.56" stroke="#000" stroke-width="0.9"/>
<line x1="442.10" y1="662.92" x2="443.90" y2="662.92" stroke="#000" stroke-width="0.9"/>
<line x1="442.10" y1="658.92" x2="443.90" y2="658.92" stroke="#000" stroke-width="0.9"/>
<line x1="442.10" y1="655.81" x2="443.90" y2="655.81" stroke="#000" stroke-width="0.9"/>
<line x1="442.10" y1="653.28" x2="443.90" y2="653.28" stroke="#000" stroke-width="0.9"/>
<line x1="442.10" y1="651.13" x2="443.90" y2="651.13" stroke="#000" stroke-width="0.9"/>
<line x1="442.10" y1="649.27" x2="443.90" y2="649.27" stroke="#000" stroke-width="0.9"/>
<line x1="442.10" y1="647.64" x2="443.90" y2="647.64" stroke="#000" stroke-width="0.9"/>
<line x1="442.10" y1="636.53" x2="443.90" y2="636.53" stroke="#000" stroke-width="0.9"/>
<line x1="442.10" y1="630.89" x2="443.90" y2="630.89" stroke="#000" stroke-width="0.9"/>
<line x1="442.10" y1="626.89" x2="443.90" y2="626.89" stroke="#000" stroke-width="0.9"/>
<line x1="442.10" y1="623.78" x2="443.90" y2="623.78" stroke="#000" stroke-width="0.9"/>
<line x1="442.10" y1="621.25" x2="443.90" y2="621.25" stroke="#000" stroke-width="0.9"/>
<line x1="442.10" y1="619.10" x2="443.90" y2="619.10" stroke="#000" stroke-width="0.9"/>
<line x1="442.10" y1="617.24" x2="443.90" y2="617.24" stroke="#000" stroke-width="0.9"/>
<line x1="442.10" y1="615.61" x2="443.90" y2="615.61" stroke="#000" stroke-width="0.9"/>
<line x1="442.10" y1="604.50" x2="443.90" y2="604.50" stroke="#000" stroke-width="0.9"/>
<line x1="442.10" y1="598.86" x2="443.90" y2="598.86" stroke="#000" stroke-width="0.9"/>
<line x1="442.10" y1="594.86" x2="443.90" y2="594.86" stroke="#000" stroke-width="0.9"/>
<line x1="442.10" y1="591.75" x2="443.90" y2="591.75" stroke="#000" stroke-width="0.9"/>
<line x1="442.10" y1="589.22" x2="443.90" y2="589.22" stroke="#000" stroke-width="0.9"/>
<line x1="442.10" y1="587.07" x2="443.90" y2="587.07" stroke="#000" stroke-width="0.9"/>
<line x1="442.10" y1="585.21" x2="443.90" y2="585.21" stroke="#000" stroke-width="0.9"/>
<line x1="442.10" y1="583.58" x2="443.90" y2="583.58" stroke="#000" stroke-width="0.9"/>
<line x1="442.10" y1="572.47" x2="443.90" y2="572.47" stroke="#000" stroke-width="0.9"/>
<line x1="442.10" y1="566.83" x2="443.90" y2="566.83" stroke="#000" stroke-width="0.9"/>
<line x1="442.10" y1="562.83" x2="443.90" y2="562.83" stroke="#000" stroke-width="0.9"/>
<line x1="442.10" y1="559.72" x2="443.90" y2="559.72" stroke="#000" stroke-width="0.9"/>
<line x1="442.10" y1="557.19" x2="443.90" y2="557.19" stroke="#000" stroke-width="0.9"/>
<line x1="442.10" y1="555.04" x2="443.90" y2="555.04" stroke="#000" stroke-width="0.9"/>
<line x1="442.10" y1="553.18" x2="443.90" y2="553.18" stroke="#000" stroke-width="0.9"/>
<line x1="442.10" y1="551.55" x2="443.90" y2="551.55" stroke="#000" stroke-width="0.9"/>
<line x1="443.17" y1="687.50" x2="511.70" y2="687.50" stroke="#000" stroke-width="1.45"/>
<line x1="444.70" y1="678.20" x2="511.70" y2="678.20" stroke="#000" stroke-width="1.15" stroke-dasharray="1.4,1.6"/>
<line x1="463.10" y1="687.50" x2="463.10" y2="691.10" stroke="#000" stroke-width="1.25"/>
<text x="0" y="0" font-size="8.8" transform="translate(463.10 701.80) scale(0.97 1)" text-anchor="middle">WT</text>
<line x1="494.70" y1="687.50" x2="494.70" y2="691.10" stroke="#000" stroke-width="1.25"/>
<text x="0" y="0" font-size="8.8" transform="translate(494.70 701.80) scale(0.97 1)" text-anchor="middle">th3/+</text>
<line x1="462.80" y1="624.20" x2="462.80" y2="645.70" stroke="#4f5f8a" stroke-width="1.15"/>
<line x1="454.95" y1="624.20" x2="470.65" y2="624.20" stroke="#4f5f8a" stroke-width="1.25"/>
<line x1="454.95" y1="645.70" x2="470.65" y2="645.70" stroke="#4f5f8a" stroke-width="1.25"/>
<line x1="494.60" y1="575.00" x2="494.60" y2="606.60" stroke="#b32840" stroke-width="1.15"/>
<line x1="486.65" y1="575.00" x2="502.55" y2="575.00" stroke="#b32840" stroke-width="1.25"/>
<line x1="486.65" y1="606.60" x2="502.55" y2="606.60" stroke="#b32840" stroke-width="1.25"/>
<circle cx="462.80" cy="613.30" r="2.65" fill="#2f4b7f"/>
<circle cx="463.00" cy="637.90" r="2.65" fill="#2f4b7f"/>
<circle cx="458.20" cy="646.30" r="2.65" fill="#2f4b7f"/>
<circle cx="466.70" cy="648.40" r="2.65" fill="#2f4b7f"/>
<circle cx="463.00" cy="659.70" r="2.65" fill="#2f4b7f"/>
<rect x="488.00" y="575.50" width="5.20" height="5.20" fill="#a9042c"/>
<rect x="496.10" y="572.10" width="5.20" height="5.20" fill="#a9042c"/>
<rect x="492.20" y="586.90" width="5.20" height="5.20" fill="#a9042c"/>
<rect x="492.20" y="627.90" width="5.20" height="5.20" fill="#a9042c"/>
<line x1="447.50" y1="631.40" x2="478.10" y2="631.40" stroke="#000" stroke-width="1.4"/>
<line x1="479.50" y1="583.00" x2="509.70" y2="583.00" stroke="#000" stroke-width="1.4"/>
<line x1="463.70" y1="548.50" x2="508.00" y2="548.50" stroke="#000" stroke-width="1.2"/>
<line x1="464.20" y1="546.10" x2="464.20" y2="550.90" stroke="#000" stroke-width="1.2"/>
<line x1="507.50" y1="546.10" x2="507.50" y2="550.90" stroke="#000" stroke-width="1.2"/>
<text x="487.30" y="540.35" font-size="8.05" text-anchor="middle" textLength="32.70" lengthAdjust="spacingAndGlyphs"><tspan font-style="italic">P</tspan>=0.0317</text>
<text x="407.20" y="534.80" font-size="12" font-weight="bold">M</text>
<text x="424.00" y="615.70" font-size="10.0" text-anchor="middle" transform="rotate(-90 424.00 615.70)" textLength="102.50" lengthAdjust="spacingAndGlyphs">Log<tspan font-size="6.8" dy="2">10</tspan><tspan dy="-2"> CFU / 100 mg liver</tspan></text>
</svg></body></html>
